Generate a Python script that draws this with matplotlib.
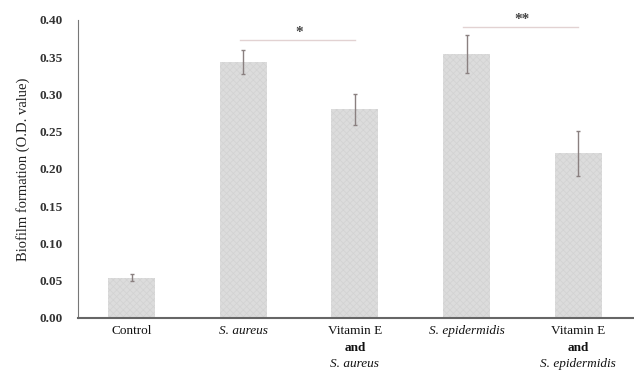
import matplotlib
matplotlib.use("Agg")
import matplotlib.pyplot as plt
import matplotlib.transforms as mtransforms

plt.rcParams['font.family'] = ['Liberation Serif', 'DejaVu Serif']
plt.rcParams['hatch.linewidth'] = 0.5

# data
groups = ["Control", "S. aureus", "Vitamin E and S. aureus", "S. epidermidis", "Vitamin E and S. epidermidis"]
values = [0.054, 0.343, 0.280, 0.354, 0.221]
errors = [0.005, 0.016, 0.021, 0.026, 0.030]
yticks = [0.00, 0.05, 0.10, 0.15, 0.20, 0.25, 0.30, 0.35, 0.40]
# label lines: (text, style, weight)
label_lines = [
    [("Control", "normal", "normal")],
    [("S. aureus", "italic", "normal")],
    [("Vitamin E", "normal", "normal"), ("and", "normal", "bold"), ("S. aureus", "italic", "normal")],
    [("S. epidermidis", "italic", "normal")],
    [("Vitamin E", "normal", "normal"), ("and", "normal", "bold"), ("S. epidermidis", "italic", "normal")],
]
# significance brackets: (left group, right group, y, label)
sig = [(1, 2, 0.373, "*"), (3, 4, 0.391, "**")]

fig = plt.figure(figsize=(6.34, 3.74), dpi=100)
ax = fig.add_axes([0.123, 0.150, 0.877, 0.797])

x = list(range(len(groups)))
ax.bar(x, values, width=0.42, color="#dcdcdc", edgecolor="#d2d2d2", hatch="xxxxx", linewidth=0)
ax.errorbar(x, values, yerr=errors, fmt="none", ecolor="#8a8080", elinewidth=1.0, capsize=1.5, capthick=1.0)

ax.set_xlim(-0.48, 4.5)
ax.set_ylim(0, 0.40)
ax.set_yticks(yticks)
ax.set_yticklabels(["%.2f" % v for v in yticks], fontsize=9.5, fontweight="bold", color="#333333")
ax.tick_params(axis="y", length=0, pad=11)
ax.tick_params(axis="x", length=0)
ax.set_xticks(x)
ax.set_xticklabels([""] * len(x))
ax.set_ylabel("Biofilm formation (O.D. value)", fontsize=10.5, labelpad=7, color="#222222")

for s in ["top", "right"]:
    ax.spines[s].set_visible(False)
ax.spines["left"].set_color("#777777")
ax.spines["bottom"].set_color("#666666")
ax.spines["bottom"].set_linewidth(1.5)

trans = mtransforms.blended_transform_factory(ax.transData, ax.transAxes)
for xi, lines in zip(x, label_lines):
    for k, (txt, st, wt) in enumerate(lines):
        ax.text(xi, -0.024 - k * 0.056, txt, transform=trans, ha="center", va="top",
                fontsize=9.5, fontstyle=st, fontweight=wt, color="#111111")

for a, b, yy, lab in sig:
    ax.plot([a - 0.03, b + 0.0], [yy, yy], color="#e2d2d2", lw=1.0, clip_on=False)
    ax.text((a + b) / 2, yy + 0.001, lab, ha="center", va="bottom", fontsize=11,
            fontweight="bold", color="#444444", clip_on=False)

fig.savefig("out.png", dpi=100)
